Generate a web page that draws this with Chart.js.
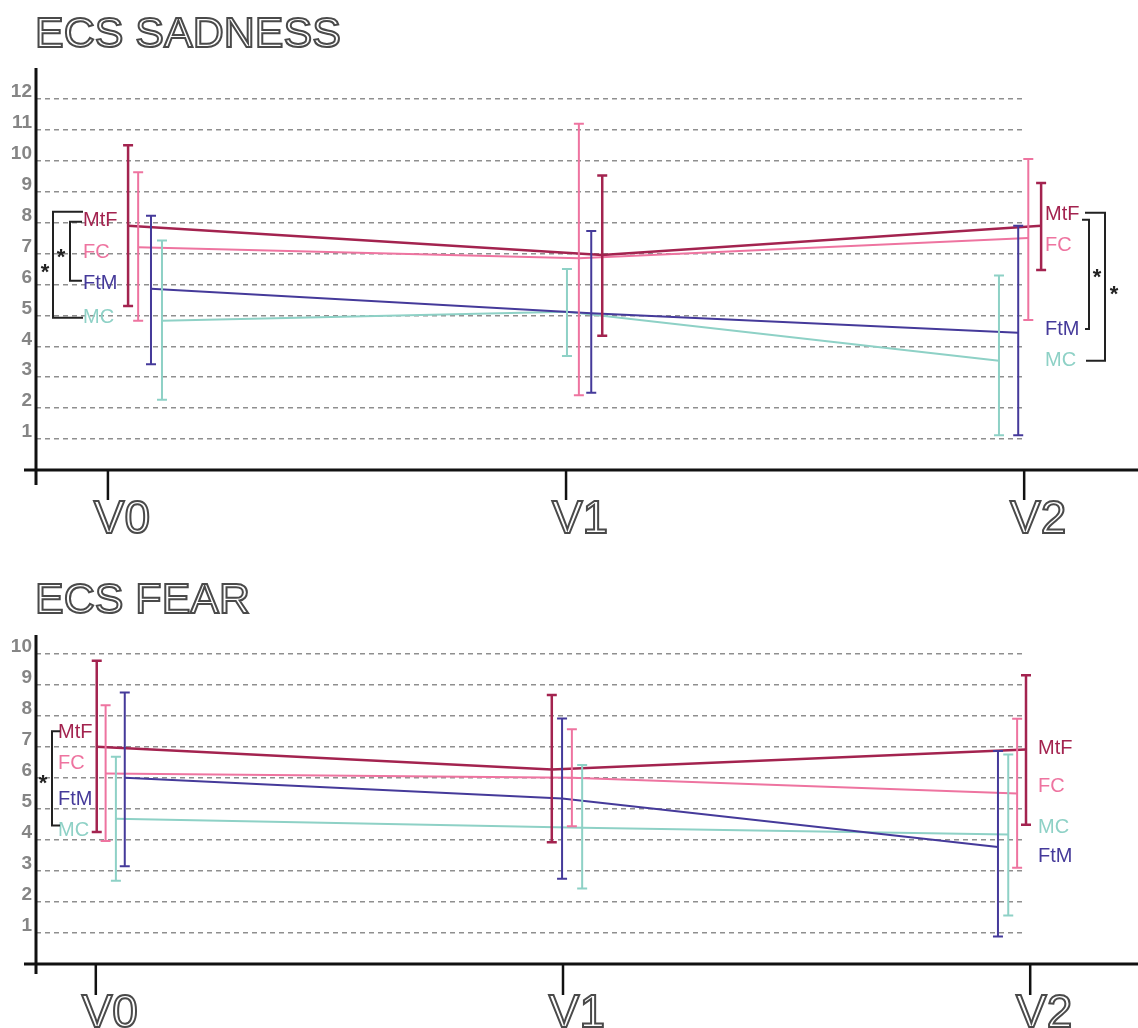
<!DOCTYPE html>
<html>
<head>
<meta charset="utf-8">
<script src="https://cdn.jsdelivr.net/npm/chart.js@4.4.1/dist/chart.umd.min.js"></script>
<style>
  html, body { margin: 0; padding: 0; background: #fff; }
  #pagina { position: relative; width: 1138px; height: 1028px; overflow: hidden; }
  .panel { position: absolute; left: 0; width: 1138px; }
  .titulo {
    position: absolute; left: 35px; margin: 0; z-index: 2;
    font: 43px/43px "Liberation Sans", Arial, sans-serif; font-weight: normal;
    color: #fff; -webkit-text-stroke: 2px #4a4a4a;
  }
</style>
</head>
<body>
<div id="pagina">
  <div class="panel" style="top:0;height:560px"><canvas id="chartTristeza"></canvas></div>
  <div class="panel" style="top:560px;height:468px"><canvas id="chartMiedo"></canvas></div>
  <h1 class="titulo" style="top:11px">ECS SADNESS</h1>
  <h1 class="titulo" style="top:577px">ECS FEAR</h1>
</div>
<script>
const visitas = ["V0", "V1", "V2"];
const grupos = ["MtF", "FC", "FtM", "MC"];

// ECS SADNESS: media y extremos de la barra de error
const tristezaMedia = { MtF: [7.9, 6.95, 7.9], FC: [7.2, 6.85, 7.5], FtM: [5.86, 5.07, 4.44], MC: [4.83, 5.12, 3.53] };
const tristezaAlto = { MtF: [10.5, 9.52, 9.28], FC: [9.63, 11.2, 10.06], FtM: [8.22, 7.73, 7.9], MC: [7.42, 6.5, 6.29] };
const tristezaBajo = { MtF: [5.3, 4.34, 6.47], FC: [4.83, 2.42, 4.85], FtM: [3.42, 2.5, 1.12], MC: [2.27, 3.69, 1.12] };
const tristezaTicks = [1, 2, 3, 4, 5, 6, 7, 8, 9, 10, 11, 12];

// ECS FEAR
const miedoMedia = { MtF: [7.0, 6.27, 6.91], FC: [6.14, 6.0, 5.49], FtM: [6.0, 5.33, 3.77], MC: [4.68, 4.39, 4.17] };
const miedoAlto = { MtF: [9.77, 8.67, 9.3], FC: [8.34, 7.56, 7.9], FtM: [8.75, 7.91, 6.86], MC: [6.68, 6.41, 6.75] };
const miedoBajo = { MtF: [4.25, 3.92, 4.49], FC: [3.96, 4.44, 3.1], FtM: [3.15, 2.75, 0.89], MC: [2.68, 2.43, 1.56] };
const miedoTicks = [1, 2, 3, 4, 5, 6, 7, 8, 9, 10];

// estilos
const colores = { MtF: "#a3234f", FC: "#ee74a0", FtM: "#453a9a", MC: "#8ed1c6" };
const grosor = { MtF: 2.5, FC: 2, FtM: 2, MC: 2 };
const FUENTE = '"Liberation Sans", Arial, sans-serif';

const panelTristeza = {
  media: tristezaMedia, alto: tristezaAlto, bajo: tristezaBajo, ticks: tristezaTicks,
  yMax: 13, xMin: -0.157, xMax: 2.004,
  padding: { left: 0, top: 68, right: 112, bottom: 90 },
  // desplazamiento de cada grupo respecto a la visita (en unidades de visita)
  dx: { MtF: [0.044, 0.079, 0.037], FC: [0.066, 0.028, 0.009], FtM: [0.094, 0.055, -0.013], MC: [0.118, 0.002, -0.055] },
  etiquetasIzq: { x: 83, y: { MtF: 8.06, FC: 7.05, FtM: 6.02, MC: 4.92 } },
  etiquetasDer: { x: 1045, y: { MtF: 8.25, FC: 7.25, FtM: 4.56, MC: 3.53 } },
  llaves: [
    { x: 53, brazo: 83, arriba: 8.35, abajo: 4.92, estrella: [45, 6.54] },
    { x: 70, brazo: 82, arriba: 8.03, abajo: 6.12, estrella: [61, 7.02] },
    { x: 1089, brazo: 1082, brazoAbajo: 1085, arriba: 8.09, abajo: 4.56, estrella: [1097, 6.38] },
    { x: 1105, brazo: 1085, brazoAbajo: 1086, arriba: 8.32, abajo: 3.53, estrella: [1114, 5.83] }
  ],
  ejeAbajo: 15, tickLargo: 30, etiquetaBase: 63
};

const panelMiedo = {
  media: miedoMedia, alto: miedoAlto, bajo: miedoBajo, ticks: miedoTicks,
  yMax: 10.6, xMin: -0.128, xMax: 1.991,
  padding: { left: 0, top: 75, right: 112, bottom: 64 },
  dx: { MtF: [0.002, -0.024, -0.009], FC: [0.021, 0.019, -0.028], FtM: [0.062, -0.002, -0.069], MC: [0.043, 0.041, -0.047] },
  etiquetasIzq: { x: 58, y: { MtF: 7.46, FC: 6.46, FtM: 5.3, MC: 4.31 } },
  etiquetasDer: { x: 1038, y: { MtF: 6.95, FC: 5.73, MC: 4.39, FtM: 3.47 } },
  llaves: [
    { x: 52, brazo: 60, arriba: 7.5, abajo: 4.46, estrella: [43, 5.95] }
  ],
  ejeAbajo: 10, tickLargo: 31, etiquetaBase: 63
};

function decorado(panel) {
  return {
    id: "decorado",
    afterDatasetsDraw(chart) {
      const { ctx, chartArea, scales } = chart;
      const x = scales.x, y = scales.y;
      const y0 = y.getPixelForValue(0);
      ctx.save();

      // barras de error
      grupos.forEach((g) => {
        ctx.strokeStyle = colores[g];
        ctx.lineWidth = grosor[g];
        visitas.forEach((v, i) => {
          const px = x.getPixelForValue(i + panel.dx[g][i]);
          const top = y.getPixelForValue(panel.alto[g][i]);
          const bot = y.getPixelForValue(panel.bajo[g][i]);
          ctx.beginPath();
          ctx.moveTo(px, top); ctx.lineTo(px, bot);
          ctx.moveTo(px - 5, top); ctx.lineTo(px + 5, top);
          ctx.moveTo(px - 5, bot); ctx.lineTo(px + 5, bot);
          ctx.stroke();
        });
      });

      // ejes
      ctx.strokeStyle = "#111";
      ctx.lineWidth = 3;
      ctx.beginPath();
      ctx.moveTo(chartArea.left, chartArea.top);
      ctx.lineTo(chartArea.left, y0 + panel.ejeAbajo);
      ctx.moveTo(24, y0);
      ctx.lineTo(chart.width, y0);
      ctx.stroke();

      // marcas y etiquetas de visita
      ctx.lineWidth = 2.5;
      ctx.font = "46px " + FUENTE;
      ctx.textAlign = "center";
      ctx.textBaseline = "alphabetic";
      visitas.forEach((v, i) => {
        const px = x.getPixelForValue(i);
        ctx.strokeStyle = "#111";
        ctx.beginPath();
        ctx.moveTo(px, y0); ctx.lineTo(px, y0 + panel.tickLargo);
        ctx.stroke();
      });
      ctx.lineWidth = 2;
      visitas.forEach((v, i) => {
        const px = x.getPixelForValue(i) + 14;
        ctx.fillStyle = "#fff";
        ctx.fillText(v, px, y0 + panel.etiquetaBase);
        ctx.strokeStyle = "#4a4a4a";
        ctx.strokeText(v, px, y0 + panel.etiquetaBase);
      });

      // etiquetas de grupo
      ctx.font = "20px " + FUENTE;
      ctx.textAlign = "left";
      ctx.textBaseline = "middle";
      [panel.etiquetasIzq, panel.etiquetasDer].forEach((lado) => {
        grupos.forEach((g) => {
          ctx.fillStyle = colores[g];
          ctx.fillText(g, lado.x, y.getPixelForValue(lado.y[g]));
        });
      });

      // llaves de significancia
      ctx.strokeStyle = "#222";
      ctx.lineWidth = 2;
      ctx.fillStyle = "#222";
      ctx.font = "bold 22px " + FUENTE;
      ctx.textAlign = "center";
      panel.llaves.forEach((ll) => {
        const t = y.getPixelForValue(ll.arriba);
        const b = y.getPixelForValue(ll.abajo);
        ctx.beginPath();
        ctx.moveTo(ll.brazo, t);
        ctx.lineTo(ll.x, t);
        ctx.lineTo(ll.x, b);
        ctx.lineTo(ll.brazoAbajo ?? ll.brazo, b);
        ctx.stroke();
        ctx.fillText("*", ll.estrella[0], y.getPixelForValue(ll.estrella[1]) + 5);
      });

      ctx.restore();
    }
  };
}

function crearPanel(id, panel) {
  const canvas = document.getElementById(id);
  return new Chart(canvas, {
    type: "line",
    data: {
      datasets: grupos.map((g) => ({
        label: g,
        data: visitas.map((v, i) => ({ x: i + panel.dx[g][i], y: panel.media[g][i] })),
        borderColor: colores[g],
        borderWidth: grosor[g],
        pointRadius: 0,
        tension: 0,
        clip: false
      }))
    },
    options: {
      responsive: true,
      maintainAspectRatio: false,
      animation: false,
      events: [],
      layout: { padding: panel.padding },
      plugins: { legend: { display: false }, tooltip: { enabled: false } },
      scales: {
        x: { type: "linear", display: false, min: panel.xMin, max: panel.xMax },
        y: {
          min: 0,
          max: panel.yMax,
          afterFit: (scale) => { scale.width = 36; },
          afterBuildTicks: (scale) => { scale.ticks = panel.ticks.map((v) => ({ value: v })); },
          grid: { color: "#8f8f8f", lineWidth: 1.5, drawTicks: false },
          border: { display: false, dash: [5, 4] },
          ticks: {
            color: "#858585",
            padding: 4,
            labelOffset: -7,
            font: { family: FUENTE, weight: "bold", size: 19 }
          }
        }
      }
    },
    plugins: [decorado(panel)]
  });
}

function init() {
  crearPanel("chartTristeza", panelTristeza);
  crearPanel("chartMiedo", panelMiedo);
}

if (document.readyState === "loading") {
  document.addEventListener("DOMContentLoaded", init);
} else {
  init();
}
</script>
</body>
</html>
